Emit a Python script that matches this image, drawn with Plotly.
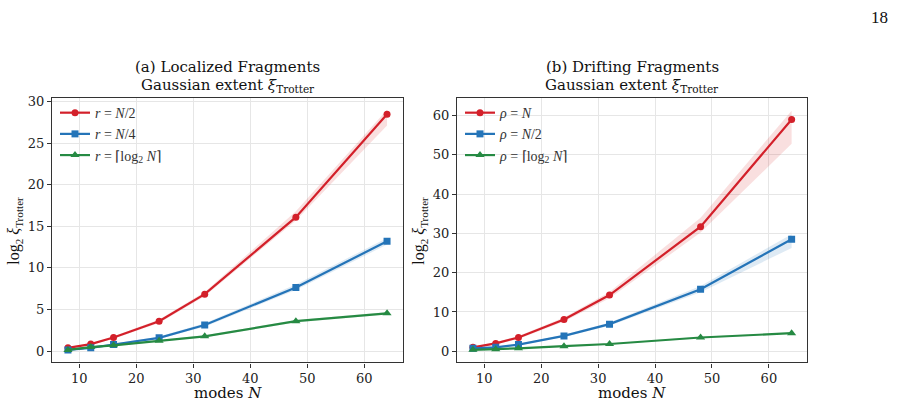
import plotly.graph_objects as go

N = [8, 12, 16, 24, 32, 48, 64]

# Panel (a) Localized fragments
a_half = [0.4, 0.85, 1.65, 3.6, 6.85, 16.1, 28.45]
a_half_lo = [0.3, 0.75, 1.5, 3.4, 6.6, 15.7, 27.1]
a_half_hi = [0.5, 0.95, 1.8, 3.8, 7.1, 16.8, 29.0]
a_quarter = [0.15, 0.4, 0.8, 1.6, 3.15, 7.65, 13.2]
a_quarter_lo = [0.1, 0.35, 0.7, 1.45, 2.95, 7.35, 12.8]
a_quarter_hi = [0.2, 0.45, 0.9, 1.75, 3.35, 8.0, 13.6]
a_log = [0.15, 0.5, 0.7, 1.25, 1.78, 3.6, 4.55]
a_log_lo = [0.08, 0.42, 0.62, 1.15, 1.66, 3.45, 4.4]
a_log_hi = [0.22, 0.58, 0.78, 1.35, 1.9, 3.75, 4.7]

# Panel (b) Drifting fragments
b_full = [1.0, 2.0, 3.5, 8.1, 14.3, 31.7, 59.0]
b_full_lo = [0.8, 1.7, 3.1, 7.6, 13.5, 30.2, 52.8]
b_full_hi = [1.2, 2.3, 3.9, 8.6, 15.1, 34.0, 61.2]
b_half = [0.75, 1.0, 1.7, 3.9, 6.9, 15.8, 28.5]
b_half_lo = [0.6, 0.85, 1.5, 3.6, 6.5, 15.0, 26.3]
b_half_hi = [0.9, 1.15, 1.9, 4.2, 7.3, 16.6, 29.8]
b_log = [0.35, 0.5, 0.75, 1.3, 1.85, 3.5, 4.6]
b_log_lo = [0.2, 0.35, 0.6, 1.15, 1.7, 3.3, 4.4]
b_log_hi = [0.5, 0.65, 0.9, 1.45, 2.0, 3.7, 4.8]

RED, BLUE, GREEN = "#d3202a", "#2474b8", "#268a43"
BANDS = {RED: "rgba(214,39,40,0.15)", BLUE: "rgba(36,116,184,0.15)", GREEN: "rgba(38,138,67,0.15)"}

SERIF = "DejaVu Serif"
MATH = "Liberation Serif"

fig = go.Figure()

def add_series(xa, ya, y, lo, hi, color, symbol, msize, name, legend):
    fig.add_trace(go.Scatter(x=N + N[::-1], y=hi + lo[::-1], xaxis=xa, yaxis=ya,
                             fill="toself", fillcolor=BANDS[color], line=dict(width=0),
                             mode="lines", hoverinfo="skip", showlegend=False))
    fig.add_trace(go.Scatter(x=N, y=y, xaxis=xa, yaxis=ya, mode="lines+markers", name=name,
                             line=dict(color=color, width=2.2),
                             marker=dict(symbol=symbol, size=msize, color=color),
                             legend=legend))

add_series("x", "y", a_half, a_half_lo, a_half_hi, RED, "circle", 7, "<i>r</i> = <i>N</i>/2", "legend")
add_series("x", "y", a_quarter, a_quarter_lo, a_quarter_hi, BLUE, "square", 7, "<i>r</i> = <i>N</i>/4", "legend")
add_series("x", "y", a_log, a_log_lo, a_log_hi, GREEN, "triangle-up", 8, "<i>r</i> = ⌈log<sub>2</sub> <i>N</i>⌉", "legend")

add_series("x2", "y2", b_full, b_full_lo, b_full_hi, RED, "circle", 7, "<i>ρ</i> = <i>N</i>", "legend2")
add_series("x2", "y2", b_half, b_half_lo, b_half_hi, BLUE, "square", 7, "<i>ρ</i> = <i>N</i>/2", "legend2")
add_series("x2", "y2", b_log, b_log_lo, b_log_hi, GREEN, "triangle-up", 8, "<i>ρ</i> = ⌈log<sub>2</sub> <i>N</i>⌉", "legend2")

W, H = 921, 406
ytop, ybot = 95, 362
yd = [1 - ybot / H, 1 - ytop / H]

axis_common = dict(showline=True, mirror=True, linecolor="#333333", linewidth=1.2,
                   ticks="outside", ticklen=4, tickcolor="#333333", tickwidth=1,
                   showgrid=True, gridcolor="#e6e6e6", gridwidth=1, zeroline=False,
                   tickfont=dict(family=SERIF, size=13, color="#222222"))

fig.update_layout(
    width=W, height=H, margin=dict(l=0, r=0, t=0, b=0),
    paper_bgcolor="white", plot_bgcolor="white",
    xaxis=dict(domain=[52 / W, 403 / W], range=[5.2, 66.8], tickvals=[10, 20, 30, 40, 50, 60],
               anchor="y", **axis_common),
    yaxis=dict(domain=yd, range=[-1.35, 30.4], tickvals=[0, 5, 10, 15, 20, 25, 30],
               anchor="x", **axis_common),
    xaxis2=dict(domain=[457 / W, 807 / W], range=[5.2, 66.7], tickvals=[10, 20, 30, 40, 50, 60],
                anchor="y2", **axis_common),
    yaxis2=dict(domain=yd, range=[-2.85, 64.45], tickvals=[0, 10, 20, 30, 40, 50, 60],
                anchor="x2", **axis_common),
    legend=dict(x=55 / W, y=1 - 94 / H, xanchor="left", yanchor="top",
                bgcolor="rgba(0,0,0,0)", font=dict(family=MATH, size=14, color="#333333"),
                tracegroupgap=0, itemwidth=30),
    legend2=dict(x=460 / W, y=1 - 94 / H, xanchor="left", yanchor="top",
                 bgcolor="rgba(0,0,0,0)", font=dict(family=MATH, size=14, color="#333333"),
                 tracegroupgap=0, itemwidth=30),
)

anns = []
for cx, title in [(227.5, "(a) Localized Fragments"), (632, "(b) Drifting Fragments")]:
    anns.append(dict(x=cx / W, y=1 - 64 / H, xref="paper", yref="paper", text=title,
                     showarrow=False, font=dict(family=SERIF, size=15, color="#111111"),
                     xanchor="center", yanchor="middle"))
    anns.append(dict(x=cx / W, y=1 - 82 / H, xref="paper", yref="paper",
                     text="Gaussian extent <i>ξ</i><sub>Trotter</sub>",
                     showarrow=False, font=dict(family=SERIF, size=15, color="#111111"),
                     xanchor="center", yanchor="middle"))
    anns.append(dict(x=cx / W, y=1 - 393 / H, xref="paper", yref="paper",
                     text="modes <i>N</i>", showarrow=False,
                     font=dict(family=SERIF, size=15, color="#111111"),
                     xanchor="center", yanchor="middle"))
for lx in [15, 420]:
    anns.append(dict(x=lx / W, y=1 - 229 / H, xref="paper", yref="paper",
                     text="log<sub>2</sub> <i>ξ</i><sub>Trotter</sub>", textangle=-90,
                     showarrow=False, font=dict(family=MATH, size=16, color="#111111"),
                     xanchor="center", yanchor="middle"))
anns.append(dict(x=879 / W, y=1 - 14 / H, xref="paper", yref="paper", text="18",
                 showarrow=False, font=dict(family=MATH, size=17, color="#111111"),
                 xanchor="center", yanchor="middle"))
fig.update_layout(annotations=anns)

fig.write_html("out.html")
